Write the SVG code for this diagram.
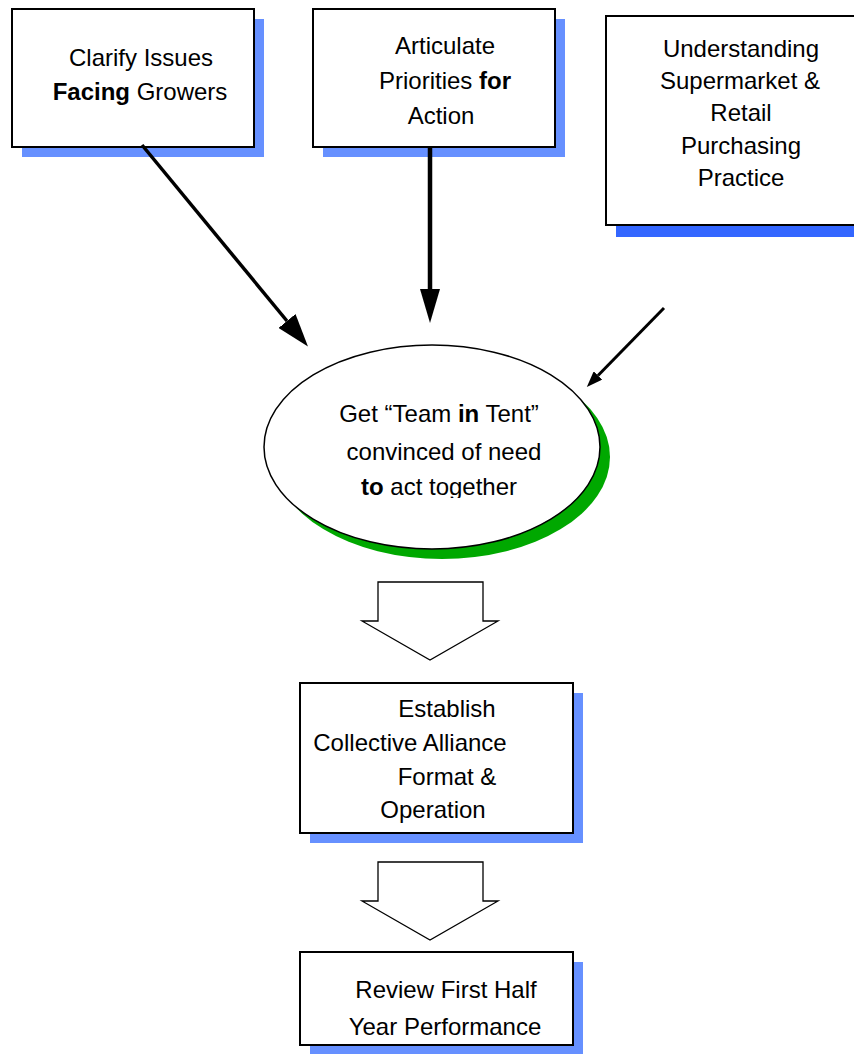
<svg xmlns="http://www.w3.org/2000/svg" width="854" height="1057" viewBox="0 0 854 1057">
  <style>
    .lbl { font-family: "Liberation Sans", Arial, sans-serif; font-size: 24px; fill: #000; text-anchor: middle; }
    .b { font-weight: bold; }
    .box { fill: #fff; stroke: #000; stroke-width: 2; }
    .shadow { fill: #6690FF; }
    .shadow2 { fill: #3366FF; }
    .conn { stroke: #000; fill: none; }
    .block { fill: #fff; stroke: #000; stroke-width: 1.3; stroke-linejoin: miter; }
  </style>
  <defs>
    <marker id="headL" markerUnits="userSpaceOnUse" viewBox="0 0 33 22" markerWidth="33" markerHeight="22" refX="0" refY="11" orient="auto">
      <path d="M0,0 L33,11 L0,22 z" fill="#000"/>
    </marker>
    <marker id="headM" markerUnits="userSpaceOnUse" viewBox="0 0 34 20" markerWidth="34" markerHeight="20" refX="0" refY="10" orient="auto">
      <path d="M0,0 L34,10 L0,20 z" fill="#000"/>
    </marker>
    <marker id="headS" markerUnits="userSpaceOnUse" viewBox="0 0 16 12" markerWidth="16" markerHeight="12" refX="0" refY="6" orient="auto">
      <path d="M0,0 L16,6 L0,12 z" fill="#000"/>
    </marker>
    <clipPath id="clipLast">
      <rect x="250" y="470" width="380" height="28"/>
    </clipPath>
  </defs>

  <rect width="854" height="1057" fill="#fff"/>

  <g id="node-clarify">
    <rect class="shadow" x="22" y="19" width="242" height="138"/>
    <rect class="box" x="12" y="9" width="242" height="138"/>
    <text class="lbl" x="141" y="66">Clarify Issues</text>
    <text class="lbl" x="140" y="100"><tspan class="b">Facing</tspan> Growers</text>
  </g>

  <g id="node-articulate">
    <rect class="shadow" x="323" y="19" width="242" height="138"/>
    <rect class="box" x="313" y="9" width="242" height="138"/>
    <text class="lbl" x="445" y="54">Articulate</text>
    <text class="lbl" x="445" y="89">Priorities <tspan class="b">for</tspan></text>
    <text class="lbl" x="441" y="124">Action</text>
  </g>

  <g id="node-understanding">
    <rect class="shadow2" x="616" y="27" width="260" height="210"/>
    <rect class="box" x="606" y="16" width="260" height="209"/>
    <text class="lbl" x="741" y="57">Understanding</text>
    <text class="lbl" x="740" y="89">Supermarket &amp;</text>
    <text class="lbl" x="741" y="121">Retail</text>
    <text class="lbl" x="741" y="154">Purchasing</text>
    <text class="lbl" x="741" y="186">Practice</text>
  </g>

  <g id="node-team">
    <ellipse cx="442" cy="457" rx="168" ry="102" fill="#00A800"/>
    <ellipse cx="432" cy="447" rx="168" ry="102" fill="#fff" stroke="#000" stroke-width="1.5"/>
    <text class="lbl" x="439" y="422">Get “Team <tspan class="b">in</tspan> Tent”</text>
    <text class="lbl" x="444" y="460">convinced of need</text>
    <text class="lbl" x="439" y="495" clip-path="url(#clipLast)"><tspan class="b">to</tspan> act together</text>
  </g>

  <g id="node-establish">
    <rect class="shadow" x="310" y="693" width="273" height="150"/>
    <rect class="box" x="300" y="683" width="273" height="150"/>
    <text class="lbl" x="447" y="717">Establish</text>
    <text class="lbl" x="410" y="751">Collective Alliance</text>
    <text class="lbl" x="447" y="785">Format &amp;</text>
    <text class="lbl" x="433" y="818">Operation</text>
  </g>

  <g id="node-review">
    <rect class="shadow" x="310" y="962" width="273" height="92"/>
    <rect class="box" x="300" y="952" width="273" height="93"/>
    <text class="lbl" x="446" y="998">Review First Half</text>
    <text class="lbl" x="445" y="1035">Year Performance</text>
  </g>

  <g id="connectors">
    <line class="conn" x1="142" y1="145" x2="287" y2="321" stroke-width="3.5" marker-end="url(#headL)"/>
    <line class="conn" x1="430" y1="147" x2="430" y2="289" stroke-width="4.5" marker-end="url(#headM)"/>
    <line class="conn" x1="664" y1="308" x2="598" y2="375.5" stroke-width="3" marker-end="url(#headS)"/>
    <polygon class="block" points="378,582 483,582 483,621 498,621 430,660 362,621 378,621"/>
    <polygon class="block" points="378,862 483,862 483,901 498,901 430,940 362,901 378,901"/>
  </g>
</svg>
